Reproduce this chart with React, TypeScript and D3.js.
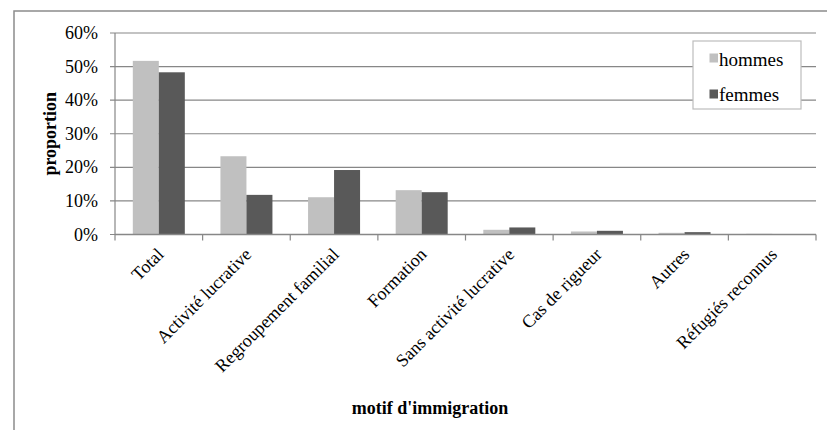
import React from "react";
import * as d3 from "d3";

// Motifs d'immigration (catégories de l'axe horizontal)
const categories = [
  "Total",
  "Activité lucrative",
  "Regroupement familial",
  "Formation",
  "Sans activité lucrative",
  "Cas de rigueur",
  "Autres",
  "Réfugiés reconnus",
];

// Proportions en pourcentage
const hommes = [51.7, 23.3, 11.1, 13.2, 1.4, 0.9, 0.5, 0.2];
const femmes = [48.3, 11.8, 19.2, 12.6, 2.1, 1.1, 0.7, 0.1];

const seriesNames = ["hommes", "femmes"];
const seriesColors = ["#c0c0c0", "#595959"];
const yTicks = [0, 10, 20, 30, 40, 50, 60];

const W = 827;
const H = 430;
const FONT = '"Liberation Serif"';

export default function App() {
  const plot = { left: 115, right: 816, top: 33, bottom: 234.5 };

  const x = d3
    .scaleBand<string>()
    .domain(categories)
    .range([plot.left, plot.right])
    .paddingInner(0)
    .paddingOuter(0);

  const y = d3.scaleLinear().domain([0, 60]).range([plot.bottom, plot.top]);

  const barW = 26;
  const series = [hommes, femmes];
  const grid = "#878787";

  return (
    <div style={{ position: "absolute", left: 0, top: 0 }}>
      <svg width={W} height={H} style={{ display: "block", background: "#fff" }}>
        {/* cadre extérieur */}
        <rect x={14} y={11} width={W} height={H} fill="#fff" stroke="#8c8c8c" strokeWidth={1.5} />

        {/* grille horizontale */}
        {yTicks.map((t) => (
          <line
            key={"g" + t}
            x1={plot.left - 5}
            x2={plot.right}
            y1={y(t)}
            y2={y(t)}
            stroke={grid}
            strokeWidth={1.2}
          />
        ))}

        {/* barres */}
        {series.map((vals, si) =>
          categories.map((c, i) => {
            const x0 = (x(c) as number) + (x.bandwidth() - 2 * barW) / 2 + si * barW;
            return (
              <rect
                key={si + "-" + c}
                x={x0}
                y={y(vals[i])}
                width={barW}
                height={plot.bottom - y(vals[i])}
                fill={seriesColors[si]}
              />
            );
          })
        )}

        {/* axe vertical */}
        <line x1={plot.left} x2={plot.left} y1={plot.top} y2={plot.bottom} stroke={grid} strokeWidth={1.2} />
        {yTicks.map((t) => (
          <text
            key={"yt" + t}
            x={98}
            y={y(t)}
            textAnchor="end"
            dominantBaseline="central"
            fontFamily={FONT}
            fontSize={18}
            fill="#000"
          >
            {t + "%"}
          </text>
        ))}

        {/* axe horizontal */}
        <line x1={plot.left} x2={plot.right} y1={plot.bottom} y2={plot.bottom} stroke={grid} strokeWidth={1.5} />
        {[...categories.map((c) => x(c) as number), plot.right].map((v, i) => (
          <line key={"xt" + i} x1={v} x2={v} y1={plot.bottom} y2={plot.bottom + 6} stroke={grid} strokeWidth={1.2} />
        ))}
        {categories.map((c) => {
          const cx = (x(c) as number) + x.bandwidth() / 2;
          return (
            <text
              key={"xl" + c}
              transform={`translate(${cx + 6},${plot.bottom + 21}) rotate(-45)`}
              textAnchor="end"
              fontFamily={FONT}
              fontSize={18}
              fill="#000"
            >
              {c}
            </text>
          );
        })}

        {/* titres des axes */}
        <text
          transform={`translate(56,${(plot.top + plot.bottom) / 2}) rotate(-90)`}
          textAnchor="middle"
          fontFamily={FONT}
          fontSize={18}
          fontWeight="bold"
          fill="#000"
        >
          proportion
        </text>
        <text x={430} y={414} textAnchor="middle" fontFamily={FONT} fontSize={18} fontWeight="bold" fill="#000">
          motif d'immigration
        </text>

        {/* légende */}
        <rect x={693} y={41} width={108} height={68} fill="#fff" stroke="#bdbdbd" strokeWidth={1.2} />
        {seriesNames.map((n, i) => (
          <g key={"lg" + n}>
            <rect x={709.5} y={53.5 + i * 36} width={8.5} height={9} fill={seriesColors[i]} />
            <text x={719} y={65.5 + i * 35.5} fontFamily={FONT} fontSize={19} fill="#000">
              {n}
            </text>
          </g>
        ))}
      </svg>
    </div>
  );
}
